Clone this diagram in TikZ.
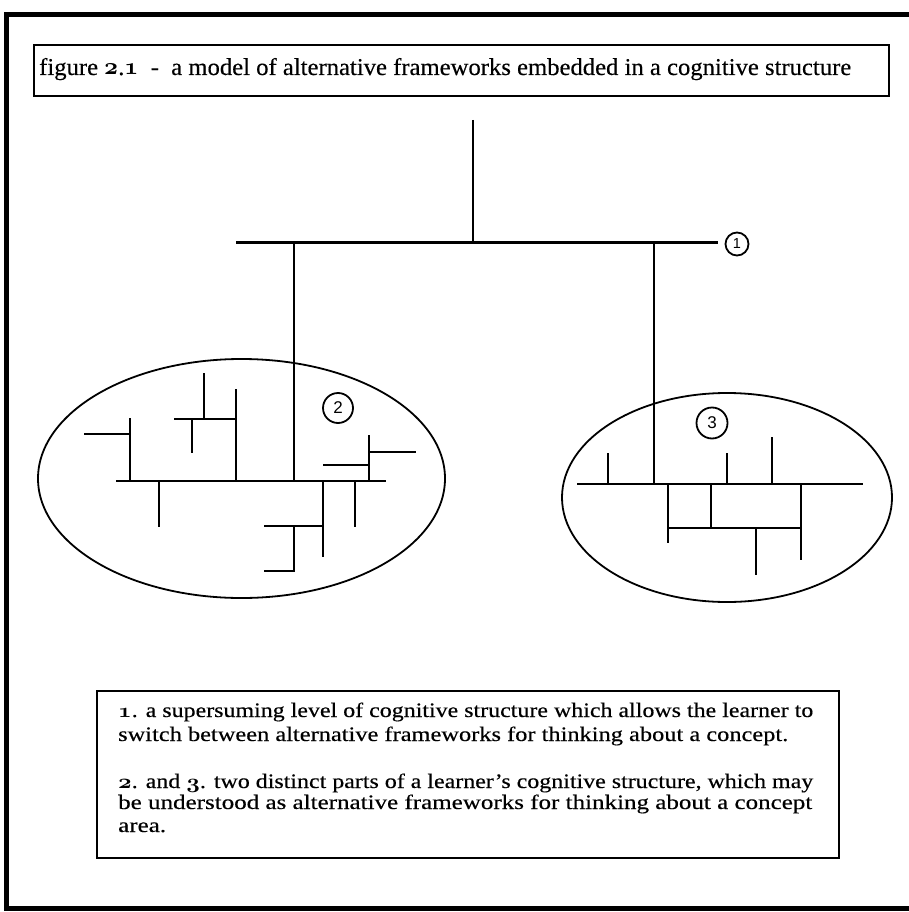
\documentclass[tikz,border=0pt]{standalone}
\usepackage{fontspec}
\setmainfont{Liberation Serif}[FakeBold=0.35]
\setsansfont{Liberation Sans}
\usetikzlibrary{shapes.geometric}
% old-style digits taken from the math italic font
\newcommand{\osf}[1]{{\usefont{OML}{cmm}{b}{it}#1}}
% a key line set to a given width and ascender height
\newcommand{\keyline}[2]{\resizebox{#1}{14.5pt}{#2}}
\newsavebox{\keybox}
\newlength{\keywd}
\newlength{\keyht}
\begin{document}
\sbox{\keybox}{\fontsize{21}{24}\selectfont be understood as alternative frameworks for thinking about a concept}%
\setlength{\keywd}{\wd\keybox}%
\setlength{\keyht}{\ht\keybox}%
\pgfmathsetmacro{\keysx}{694pt/\keywd}%
\pgfmathsetmacro{\keysy}{14.5pt/\keyht}%
\begin{tikzpicture}[x=1pt,y=-1pt,
  frame/.style={line width=5pt, line join=miter},
  textbox/.style={draw, line width=2.2pt},
  branch/.style={line width=2.4pt},
  bubble/.style={draw, ellipse, line width=1.8pt, inner sep=0pt},
  numcirc/.style={draw, circle, line width=1.8pt, inner sep=0pt,
    font=\sffamily\fontsize{17}{17}\selectfont},
  label/.style={anchor=base west, inner sep=0pt,
    font=\fontsize{21}{24}\selectfont},
]
\useasboundingbox (0,0) rectangle (908,912);

% page frame (open on the right)
\draw[frame] (910,15) -- (6,15) -- (6,908) -- (910,908);

% caption
\draw[textbox] (34,45) rectangle (889,96);
\node[label] (title) at (39,75) {\resizebox{812pt}{17pt}{figure \osf{2}.\osf{1}\ \ -\ \ a model of alternative frameworks embedded in a cognitive structure}};

% the two framework regions
\node[bubble, minimum width=407pt, minimum height=239pt] (fw2) at (241.5,478.5) {};
\node[bubble, minimum width=330pt, minimum height=209pt] (fw3) at (727,497.5) {};

% numbered markers
\node[numcirc, minimum size=23pt, font=\sffamily\fontsize{14.5}{14.5}\selectfont] (c1) at (737,244) {1};
\node[numcirc, minimum size=30pt] (c2) at (338,408) {2};
\node[numcirc, minimum size=31pt] (c3) at (712,423) {3};

% supersuming level
\coordinate (top) at (473,120);
\coordinate (hub) at (473,242.5);
\coordinate (l1a) at (236,242.5);
\coordinate (l1b) at (718,242.5);
\draw[branch] (top) -- (hub);
\draw[branch] (l1a) -- (l1b);
\draw[branch] (294,242.5) -- (294,481);
\draw[branch] (654,242.5) -- (654,484);

% structure inside framework 2
\draw[branch] (116,481) -- (386,481);
\draw[branch] (130,481) -- (130,418);
\draw[branch] (84,434) -- (130,434);
\draw[branch] (236,481) -- (236,389);
\draw[branch] (174,419) -- (236,419);
\draw[branch] (204,419) -- (204,373);
\draw[branch] (192,419) -- (192,453);
\draw[branch] (159,481) -- (159,527);
\draw[branch] (369,481) -- (369,435);
\draw[branch] (369,452) -- (416,452);
\draw[branch] (323,465) -- (369,465);
\draw[branch] (323,481) -- (323,557);
\draw[branch] (264,526) -- (323,526);
\draw[branch] (264,571) -- (294,571) -- (294,526);
\draw[branch] (355,481) -- (355,527);

% structure inside framework 3
\draw[branch] (577,484) -- (863,484);
\draw[branch] (608,484) -- (608,453);
\draw[branch] (727,484) -- (727,453);
\draw[branch] (772,484) -- (772,437);
\draw[branch] (668,484) -- (668,543);
\draw[branch] (711,484) -- (711,528);
\draw[branch] (801,484) -- (801,560);
\draw[branch] (668,528) -- (801,528);
\draw[branch] (756,528) -- (756,575);

% key
\draw[textbox] (97,691) rectangle (839,858);
\node[label] (k1) at (118,717) {\keyline{695pt}{\osf{1}. a supersuming level of cognitive structure which allows the learner to}};
\node[label] (k2) at (118,741) {\keyline{670pt}{switch between alternative frameworks for thinking about a concept.}};
\node[label] (k3) at (118,788) {\keyline{695pt}{\osf{2}. and \osf{3}. two distinct parts of a learner's cognitive structure, which may}};
\node[label] (k4) at (118,809) {\keyline{694pt}{be understood as alternative frameworks for thinking about a concept}};
\node[label] (k5) at (118,832) {\scalebox{\keysx}[\keysy]{area.}};
\end{tikzpicture}
\end{document}
